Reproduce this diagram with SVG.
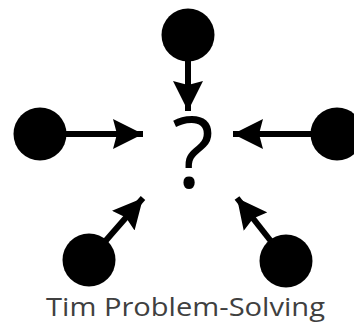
<svg xmlns="http://www.w3.org/2000/svg" width="354" height="325" viewBox="0 0 354 325">
<style>
.dot{fill:#000}
.conn{stroke:#000;stroke-width:6;fill:none}
.q{font-family:"Open Sans","Liberation Sans",sans-serif;font-weight:400;font-size:98px;fill:#000}
.lbl{font-family:"Open Sans","Liberation Sans",sans-serif;font-size:26px;fill:#404040}
</style>
<defs>
<marker id="ah" viewBox="0 0 30 30" refX="30" refY="15" markerWidth="30" markerHeight="30" markerUnits="userSpaceOnUse" orient="auto">
<path d="M0,0 L30,15 L0,30 L4,15 Z" fill="#000"/>
</marker>
</defs>
<rect width="354" height="325" fill="#fff"/>
<g id="connectors">
<line class="conn" x1="188" y1="50" x2="188" y2="111" marker-end="url(#ah)"/>
<line class="conn" x1="50" y1="134" x2="143" y2="134" marker-end="url(#ah)"/>
<line class="conn" x1="326" y1="134" x2="233" y2="134" marker-end="url(#ah)"/>
<line class="conn" x1="95" y1="253" x2="143" y2="198" marker-end="url(#ah)"/>
<line class="conn" x1="281" y1="254" x2="237" y2="198" marker-end="url(#ah)"/>
</g>
<g id="n-top"><circle class="dot" cx="188" cy="35" r="26.5"/></g>
<g id="n-left"><circle class="dot" cx="40" cy="134" r="26.5"/></g>
<g id="n-right"><circle class="dot" cx="337" cy="134" r="26.5"/></g>
<g id="n-bottom-left"><circle class="dot" cx="89" cy="260" r="26.5"/></g>
<g id="n-bottom-right"><circle class="dot" cx="286" cy="261" r="26.5"/></g>
<g id="center"><text class="q" x="193" y="188" text-anchor="middle">?</text></g>
<g id="label"><text class="lbl" x="185.5" y="316" text-anchor="middle" textLength="279" lengthAdjust="spacingAndGlyphs">Tim Problem-Solving</text></g>
</svg>
